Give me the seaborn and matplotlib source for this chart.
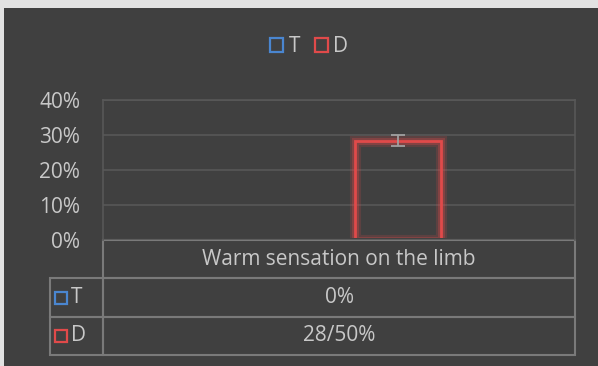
import matplotlib
matplotlib.use("Agg")
import matplotlib.pyplot as plt
import matplotlib.patheffects as pe
from matplotlib.patches import Patch, Rectangle
from matplotlib.ticker import PercentFormatter
import seaborn as sns
import pandas as pd

# data
category = "Warm sensation on the limb"
groups = ["T", "D"]
values = [0.0, 0.284]
errors = [0.0, 0.016]
cell_labels = ["0%", "28/50%"]
colors = {"T": "#4a86d0", "D": "#e04a4a"}

bg = "#404040"
txt = "#c8c8c8"
grid = "#585858"
line = "#7a7a7a"
fs = 15

sns.set_style("dark")
plt.rcParams["font.family"] = ["Open Sans", "DejaVu Sans"]

df = pd.DataFrame({"symptom": [category] * len(groups), "group": groups, "value": values})

fig = plt.figure(figsize=(5.98, 3.66), dpi=100)
fig.patch.set_facecolor("#e2e2e2")
fig.patches.append(Rectangle((4 / 598, 0), 1, (366 - 8) / 366, transform=fig.transFigure,
                             facecolor=bg, edgecolor="none", zorder=-1))

ax = fig.add_axes([103 / 598, 126 / 366, 472 / 598, 140 / 366])
ax.set_facecolor(bg)

sns.barplot(data=df, x="symptom", y="value", hue="group", hue_order=groups,
            palette=colors, width=0.5, gap=0.27, fill=False, linewidth=2,
            errorbar=None, legend=False, ax=ax)
ax.set_xlim(-0.5, 0.5)

# glow on bar outlines, hide zero-height bars, add error bars
clip = Rectangle((0, 0.012), 1, 1.2, transform=ax.transAxes)
for p, g, v, e in zip(ax.patches, groups, values, errors):
    if v == 0:
        p.set_visible(False)
        continue
    p.set_clip_path(clip)
    p.set_path_effects([pe.Stroke(linewidth=8, foreground=colors[g], alpha=0.18),
                        pe.Stroke(linewidth=5, foreground=colors[g], alpha=0.3),
                        pe.Normal()])
    ax.errorbar(p.get_x() + p.get_width() / 2, v, yerr=e, color="#a0a0a0",
                capsize=5, elinewidth=1.3, capthick=1.3, zorder=5)

ax.set_ylim(0, 0.4)
ax.set_yticks([0, 0.1, 0.2, 0.3, 0.4])
ax.yaxis.set_major_formatter(PercentFormatter(1.0, decimals=0))
ax.tick_params(axis="y", colors=txt, labelsize=fs, length=0, pad=16.5)
ax.set_xticks([])
ax.set_xlabel("")
ax.set_ylabel("")
ax.grid(axis="y", color=grid, linewidth=1.2)
ax.grid(axis="x", visible=False)
for s in ["left", "right", "top"]:
    ax.spines[s].set_visible(True)
    ax.spines[s].set_color(grid)
    ax.spines[s].set_linewidth(1.2)
ax.spines["bottom"].set_visible(False)

# data table below the plot
tb_h = 115 / 140
tb_l = -53 / 472
cell_text = [["", category]] + [["", c] for c in cell_labels]
tab = ax.table(cellText=cell_text, cellLoc="center", colWidths=[53, 472],
               bbox=[tb_l, -tb_h, 1 - tb_l, tb_h])
tab.auto_set_font_size(False)
for (r, c), cell in tab.get_celld().items():
    cell.set_facecolor("none")
    cell.set_edgecolor(line)
    cell.set_linewidth(1.5)
    cell.get_text().set_color(txt)
    cell.get_text().set_fontsize(fs)
    if r == 0 and c == 0:
        cell.visible_edges = ""

row_h = tb_h / 3
for i, g in enumerate(groups):
    yc = -row_h * (i + 1.5)
    ax.plot([-0.089], [yc], marker="s", ms=8.5, mfc="none", mec=colors[g], mew=1.6,
            transform=ax.transAxes, clip_on=False)
    ax.text(-0.068, yc, g, color=txt, fontsize=fs, ha="left", va="center",
            transform=ax.transAxes)

handles = [Patch(facecolor="none", edgecolor=colors[g], linewidth=1.6, label=g) for g in groups]
leg = fig.legend(handles=handles, loc="center", bbox_to_anchor=(309 / 598, 1 - 47 / 366),
                 ncol=2, frameon=False, handlelength=0.65, handleheight=0.65,
                 handletextpad=0.25, columnspacing=0.7, fontsize=fs)
for t in leg.get_texts():
    t.set_color(txt)

fig.savefig("out.png", dpi=100, facecolor=fig.get_facecolor())
